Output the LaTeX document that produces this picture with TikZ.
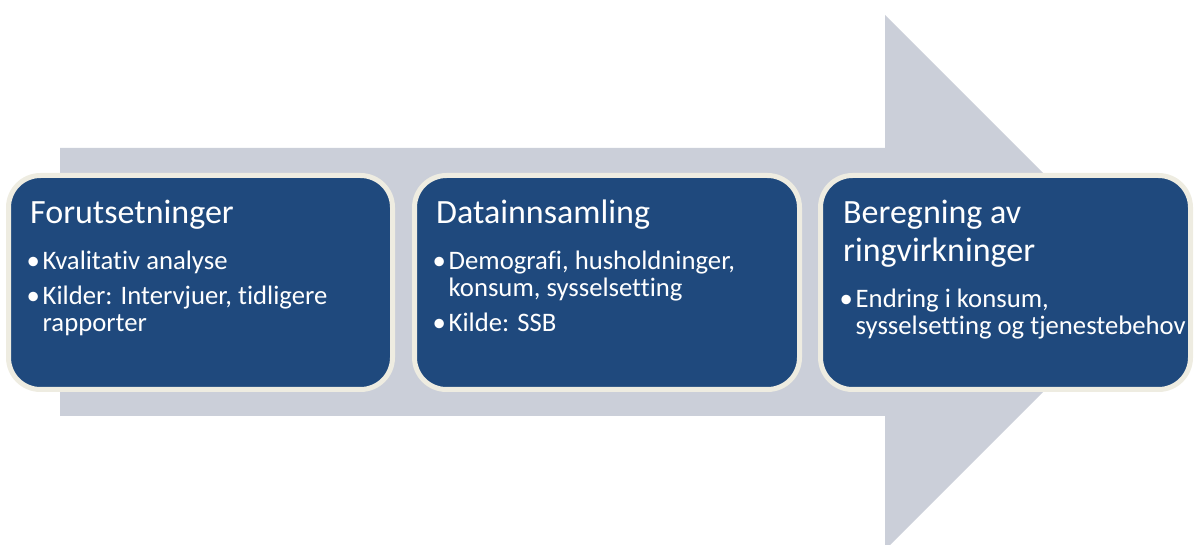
\documentclass[tikz,border=0pt]{standalone}
\usepackage{fontspec}
\setmainfont{Carlito}[Ligatures={NoCommon,NoRare,NoContextual},RawFeature={-liga;-dlig}]
\definecolor{boxblue}{HTML}{1F497D}
\definecolor{boxrim}{HTML}{EEECE1}
\definecolor{arrowgray}{HTML}{CBCFD9}
\tikzset{
  stepbox/.style={draw=boxrim, line width=5pt, fill=boxblue, rounded corners=32pt,
    inner sep=0pt, outer sep=0pt, minimum height=214pt},
  titletext/.style={anchor=base west, inner sep=0pt, text=white, font=\fontsize{34}{38}\selectfont},
  itemtext/.style={anchor=base west, inner sep=0pt, text=white, font=\fontsize{26.7}{27}\selectfont},
  bullettext/.style={anchor=base east, inner sep=0pt, text=white, font=\fontsize{26.7}{27}\selectfont},
}
\begin{document}
\begin{tikzpicture}[x=1pt,y=-1pt]
\useasboundingbox (0,0) rectangle (1195,545);
\clip (0,0) rectangle (1195,545);
% background arrow
\fill[arrowgray] (60,148) -- (885,148) -- (885,15) -- (1152.5,282.5) -- (885,550)
  -- (885,416) -- (60,416) -- cycle;
% boxes
\node[stepbox, minimum width=384pt] (box1) at (200.5,282.5) {};
\node[stepbox, minimum width=385pt] (box2) at (607,282.5) {};
\node[stepbox, minimum width=370pt] (box3) at (1005.5,282.5) {};
% box 1 text
\node[titletext] (t1) at (30,224) {Forutsetninger};
\node[bullettext] (b1a) at (40,270) {•};
\node[itemtext] (i1a) at (42.5,270) {Kvalitativ analyse};
\node[bullettext] (b1b) at (40,305) {•};
\node[itemtext] (i1b) at (42.5,305) {Kilder: Intervjuer, tidligere};
\node[itemtext] (i1c) at (42.5,331.5) {rapporter};
% box 2 text
\node[titletext] (t2) at (436,224) {Datainnsamling};
\node[bullettext] (b2a) at (446,270) {•};
\node[itemtext] (i2a) at (448.5,270) {Demografi, husholdninger,};
\node[itemtext] (i2b) at (448.5,296.5) {konsum, sysselsetting};
\node[bullettext] (b2b) at (446,331.5) {•};
\node[itemtext] (i2c) at (448.5,331.5) {Kilde: SSB};
% box 3 text
\node[titletext] (t3a) at (843,224) {Beregning av};
\node[titletext] (t3b) at (843,262) {ringvirkninger};
\node[bullettext] (b3a) at (853,308) {•};
\node[itemtext] (i3a) at (855.5,308) {Endring i konsum,};
\node[itemtext] (i3b) at (855.5,334.5) {sysselsetting og tjenestebehov};
\end{tikzpicture}
\end{document}
